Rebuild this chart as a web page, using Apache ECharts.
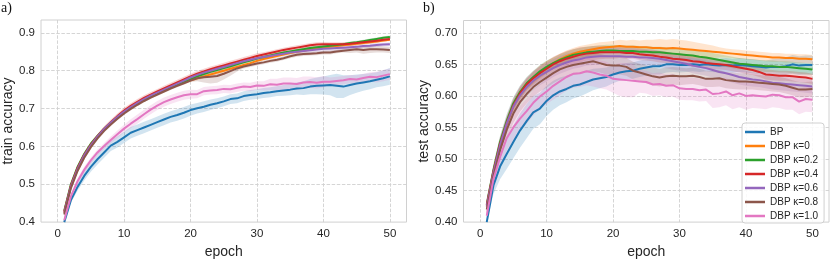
<!DOCTYPE html>
<html>
<head>
<meta charset="utf-8">
<script src="https://cdn.jsdelivr.net/npm/echarts@6/dist/echarts.min.js"></script>
<style>html,body{margin:0;padding:0;background:#fff}#c{width:830px;height:264px}</style>
</head>
<body>
<div id="c"></div>
<script>
const epochs = [1,2,3,4,5,6,7,8,9,10,11,12,13,14,15,16,17,18,19,20,21,22,23,24,25,26,27,28,29,30,31,32,33,34,35,36,37,38,39,40,41,42,43,44,45,46,47,48,49,50];
const seriesNames = ['BP','DBP \u03ba=0','DBP \u03ba=0.2','DBP \u03ba=0.4','DBP \u03ba=0.6','DBP \u03ba=0.8','DBP \u03ba=1.0'];
const seriesColors = ['#1f77b4','#ff7f0e','#2ca02c','#d62728','#9467bd','#8c564b','#e377c2'];
const xTicks = [0,10,20,30,40,50];
const trainTicks = [0.4,0.5,0.6,0.7,0.8,0.9];
const testTicks = [0.40,0.45,0.50,0.55,0.60,0.65,0.70];

// ---- train accuracy (panel a) ----
const trainBP  = [0.400,0.458,0.493,0.522,0.546,0.566,0.584,0.602,0.612,0.624,0.636,0.643,0.650,0.657,0.664,0.671,0.678,0.683,0.689,0.696,0.701,0.705,0.710,0.714,0.719,0.725,0.727,0.733,0.736,0.738,0.741,0.743,0.746,0.748,0.750,0.753,0.754,0.758,0.760,0.761,0.762,0.760,0.758,0.762,0.766,0.769,0.772,0.776,0.780,0.785];
const trainK0  = [0.425,0.495,0.540,0.575,0.603,0.625,0.645,0.661,0.676,0.690,0.701,0.712,0.722,0.731,0.739,0.747,0.755,0.762,0.769,0.775,0.780,0.785,0.790,0.795,0.800,0.805,0.810,0.815,0.820,0.826,0.831,0.835,0.839,0.843,0.847,0.850,0.853,0.856,0.859,0.861,0.863,0.865,0.867,0.869,0.871,0.873,0.875,0.877,0.880,0.882];
const trainK02 = [0.430,0.500,0.546,0.580,0.607,0.628,0.647,0.663,0.678,0.692,0.703,0.714,0.724,0.733,0.741,0.749,0.757,0.764,0.771,0.778,0.785,0.791,0.797,0.802,0.807,0.812,0.817,0.822,0.827,0.832,0.836,0.840,0.844,0.848,0.851,0.854,0.857,0.860,0.862,0.864,0.866,0.868,0.870,0.873,0.875,0.878,0.881,0.884,0.887,0.889];
const trainK04 = [0.428,0.497,0.543,0.578,0.605,0.627,0.647,0.664,0.680,0.695,0.707,0.718,0.728,0.737,0.745,0.753,0.761,0.769,0.777,0.785,0.792,0.798,0.804,0.809,0.814,0.819,0.824,0.829,0.834,0.839,0.843,0.847,0.851,0.855,0.858,0.861,0.864,0.867,0.869,0.870,0.870,0.870,0.870,0.871,0.873,0.875,0.877,0.879,0.882,0.884];
const trainK06 = [0.425,0.494,0.540,0.576,0.603,0.626,0.646,0.663,0.678,0.692,0.704,0.715,0.725,0.734,0.742,0.750,0.758,0.766,0.774,0.782,0.789,0.795,0.800,0.805,0.810,0.815,0.820,0.825,0.829,0.833,0.836,0.839,0.842,0.845,0.848,0.850,0.852,0.854,0.856,0.858,0.859,0.860,0.861,0.862,0.863,0.865,0.866,0.868,0.869,0.870];
const trainK08 = [0.420,0.490,0.535,0.570,0.598,0.621,0.641,0.658,0.673,0.687,0.699,0.710,0.720,0.729,0.737,0.745,0.753,0.760,0.767,0.774,0.780,0.783,0.784,0.786,0.792,0.799,0.806,0.811,0.815,0.819,0.822,0.826,0.829,0.833,0.838,0.842,0.844,0.845,0.846,0.848,0.848,0.851,0.853,0.855,0.857,0.855,0.857,0.857,0.856,0.855];
const trainK10 = [0.405,0.468,0.508,0.538,0.563,0.584,0.601,0.617,0.632,0.647,0.660,0.672,0.685,0.697,0.708,0.717,0.724,0.730,0.735,0.738,0.738,0.746,0.748,0.749,0.752,0.751,0.755,0.758,0.757,0.761,0.760,0.764,0.763,0.766,0.766,0.765,0.769,0.770,0.768,0.771,0.771,0.773,0.775,0.778,0.777,0.781,0.784,0.783,0.787,0.791];
// half-widths of the shaded bands
const trainBPBand  = [0.004,0.007,0.010,0.012,0.013,0.014,0.014,0.014,0.015,0.015,0.015,0.015,0.015,0.015,0.015,0.015,0.015,0.015,0.015,0.015,0.014,0.014,0.014,0.013,0.013,0.013,0.013,0.013,0.013,0.013,0.013,0.013,0.013,0.014,0.015,0.016,0.018,0.020,0.022,0.024,0.027,0.032,0.030,0.026,0.024,0.022,0.021,0.020,0.021,0.022];
const trainK0Band  = [0.008,0.006,0.005,0.005,0.005,0.004,0.004,0.004,0.004,0.004,0.004,0.004,0.004,0.004,0.004,0.004,0.004,0.004,0.004,0.004,0.005,0.005,0.005,0.005,0.005,0.005,0.005,0.005,0.005,0.005,0.004,0.004,0.004,0.004,0.004,0.004,0.004,0.004,0.004,0.004,0.004,0.004,0.004,0.004,0.004,0.004,0.004,0.004,0.004,0.004];
const trainK02Band = [0.008,0.006,0.005,0.005,0.005,0.004,0.004,0.004,0.004,0.004,0.004,0.004,0.004,0.004,0.004,0.004,0.004,0.004,0.004,0.004,0.004,0.004,0.004,0.004,0.004,0.004,0.004,0.004,0.004,0.004,0.004,0.004,0.004,0.004,0.004,0.004,0.004,0.004,0.004,0.004,0.004,0.004,0.004,0.004,0.004,0.004,0.004,0.004,0.004,0.004];
const trainK04Band = [0.008,0.006,0.005,0.005,0.006,0.006,0.006,0.007,0.007,0.007,0.007,0.007,0.007,0.007,0.007,0.007,0.007,0.007,0.007,0.007,0.007,0.007,0.007,0.007,0.007,0.007,0.007,0.007,0.007,0.007,0.006,0.006,0.006,0.006,0.006,0.006,0.006,0.006,0.006,0.006,0.005,0.005,0.005,0.005,0.005,0.005,0.005,0.005,0.005,0.005];
const trainK06Band = [0.008,0.006,0.005,0.005,0.005,0.004,0.004,0.004,0.004,0.004,0.004,0.004,0.004,0.004,0.004,0.004,0.004,0.004,0.004,0.004,0.004,0.004,0.004,0.004,0.004,0.004,0.004,0.004,0.004,0.004,0.004,0.004,0.004,0.004,0.005,0.007,0.008,0.008,0.008,0.008,0.008,0.008,0.008,0.008,0.006,0.005,0.005,0.005,0.005,0.005];
const trainK08Band = [0.008,0.006,0.005,0.005,0.005,0.004,0.004,0.004,0.004,0.004,0.004,0.004,0.004,0.004,0.004,0.004,0.004,0.004,0.004,0.004,0.008,0.014,0.018,0.018,0.015,0.012,0.008,0.005,0.005,0.005,0.005,0.005,0.005,0.005,0.005,0.005,0.005,0.005,0.005,0.005,0.005,0.005,0.005,0.008,0.009,0.010,0.010,0.009,0.008,0.008];
const trainK10Band = [0.006,0.007,0.008,0.008,0.008,0.008,0.008,0.009,0.010,0.010,0.012,0.012,0.012,0.012,0.012,0.012,0.012,0.012,0.012,0.012,0.011,0.011,0.011,0.011,0.011,0.011,0.011,0.011,0.011,0.011,0.012,0.015,0.016,0.016,0.016,0.016,0.016,0.015,0.015,0.015,0.011,0.011,0.011,0.011,0.011,0.011,0.012,0.014,0.015,0.015];

// ---- test accuracy (panel b) ----
const testBP  = [0.400,0.458,0.488,0.508,0.527,0.545,0.560,0.574,0.580,0.592,0.601,0.607,0.611,0.616,0.618,0.622,0.626,0.628,0.630,0.634,0.637,0.639,0.640,0.643,0.645,0.647,0.647,0.650,0.650,0.649,0.649,0.650,0.649,0.650,0.649,0.648,0.649,0.648,0.649,0.648,0.647,0.646,0.645,0.646,0.646,0.647,0.650,0.648,0.649,0.649];
const testK0  = [0.425,0.478,0.522,0.556,0.584,0.603,0.617,0.628,0.637,0.645,0.652,0.658,0.663,0.667,0.670,0.672,0.674,0.676,0.677,0.678,0.679,0.678,0.678,0.677,0.677,0.676,0.676,0.675,0.676,0.675,0.674,0.673,0.672,0.671,0.670,0.669,0.668,0.667,0.666,0.665,0.664,0.663,0.662,0.661,0.661,0.660,0.660,0.659,0.659,0.658];
const testK02 = [0.428,0.482,0.527,0.560,0.588,0.606,0.620,0.630,0.639,0.646,0.652,0.657,0.661,0.665,0.667,0.669,0.670,0.671,0.672,0.672,0.671,0.671,0.671,0.670,0.670,0.669,0.669,0.668,0.667,0.666,0.665,0.664,0.662,0.661,0.659,0.657,0.655,0.653,0.651,0.650,0.649,0.648,0.647,0.647,0.646,0.646,0.645,0.644,0.643,0.642];
const testK04 = [0.427,0.480,0.524,0.557,0.585,0.604,0.618,0.628,0.636,0.643,0.650,0.655,0.659,0.662,0.665,0.667,0.668,0.669,0.669,0.669,0.669,0.668,0.668,0.666,0.665,0.664,0.662,0.661,0.659,0.658,0.657,0.655,0.654,0.652,0.651,0.650,0.649,0.647,0.645,0.643,0.641,0.638,0.634,0.633,0.632,0.632,0.631,0.630,0.629,0.627];
const testK06 = [0.425,0.478,0.522,0.556,0.583,0.601,0.614,0.624,0.632,0.638,0.644,0.649,0.653,0.656,0.658,0.661,0.662,0.663,0.663,0.663,0.663,0.662,0.662,0.661,0.661,0.660,0.659,0.657,0.655,0.653,0.651,0.648,0.646,0.644,0.641,0.638,0.636,0.633,0.630,0.628,0.626,0.625,0.623,0.621,0.620,0.619,0.618,0.617,0.616,0.615];
const testK08 = [0.420,0.473,0.514,0.546,0.572,0.590,0.603,0.614,0.622,0.629,0.636,0.642,0.646,0.649,0.651,0.653,0.655,0.652,0.649,0.648,0.648,0.646,0.640,0.637,0.634,0.631,0.629,0.631,0.632,0.631,0.631,0.632,0.630,0.627,0.627,0.628,0.625,0.624,0.623,0.623,0.622,0.621,0.620,0.619,0.618,0.616,0.613,0.610,0.610,0.611];
const testK10 = [0.410,0.468,0.503,0.533,0.550,0.564,0.576,0.589,0.599,0.607,0.616,0.623,0.630,0.635,0.636,0.639,0.637,0.634,0.632,0.627,0.626,0.625,0.624,0.623,0.622,0.618,0.619,0.616,0.617,0.612,0.611,0.611,0.609,0.610,0.603,0.604,0.607,0.601,0.604,0.600,0.601,0.600,0.599,0.602,0.601,0.598,0.598,0.591,0.595,0.594];
const testBPBand  = [0.005,0.014,0.020,0.024,0.026,0.027,0.027,0.026,0.025,0.024,0.023,0.022,0.021,0.020,0.019,0.018,0.017,0.016,0.015,0.014,0.013,0.013,0.013,0.013,0.013,0.013,0.013,0.013,0.012,0.012,0.011,0.011,0.011,0.011,0.011,0.011,0.011,0.011,0.011,0.011,0.011,0.011,0.011,0.012,0.013,0.014,0.015,0.015,0.015,0.015];
const testK0Band  = [0.010,0.010,0.010,0.010,0.010,0.010,0.010,0.010,0.010,0.010,0.009,0.009,0.009,0.009,0.009,0.009,0.009,0.009,0.009,0.009,0.010,0.010,0.011,0.011,0.012,0.013,0.014,0.014,0.014,0.014,0.014,0.013,0.012,0.011,0.010,0.008,0.007,0.007,0.007,0.007,0.007,0.007,0.007,0.007,0.007,0.007,0.007,0.007,0.007,0.007];
const testK02Band = [0.010,0.010,0.010,0.010,0.010,0.010,0.010,0.010,0.010,0.010,0.009,0.009,0.009,0.009,0.009,0.009,0.009,0.009,0.009,0.009,0.009,0.009,0.009,0.009,0.009,0.009,0.009,0.009,0.009,0.009,0.009,0.009,0.009,0.009,0.009,0.009,0.009,0.009,0.009,0.009,0.009,0.009,0.009,0.009,0.009,0.009,0.009,0.009,0.009,0.009];
const testK04Band = [0.010,0.010,0.010,0.010,0.010,0.010,0.010,0.011,0.012,0.012,0.012,0.012,0.012,0.012,0.012,0.011,0.011,0.011,0.010,0.010,0.009,0.009,0.009,0.009,0.009,0.009,0.009,0.009,0.009,0.009,0.009,0.009,0.009,0.009,0.009,0.008,0.008,0.008,0.008,0.008,0.008,0.008,0.008,0.008,0.008,0.008,0.008,0.008,0.008,0.008];
const testK06Band = [0.012,0.013,0.014,0.015,0.015,0.015,0.015,0.015,0.015,0.015,0.014,0.014,0.014,0.013,0.013,0.013,0.013,0.013,0.013,0.013,0.013,0.013,0.013,0.013,0.013,0.013,0.013,0.013,0.013,0.013,0.012,0.012,0.012,0.012,0.012,0.012,0.012,0.012,0.012,0.012,0.011,0.011,0.011,0.011,0.011,0.011,0.011,0.011,0.011,0.011];
const testK08Band = [0.012,0.013,0.014,0.015,0.015,0.015,0.015,0.015,0.015,0.016,0.016,0.016,0.016,0.016,0.016,0.016,0.016,0.015,0.015,0.015,0.014,0.014,0.014,0.014,0.014,0.014,0.014,0.014,0.014,0.014,0.013,0.013,0.013,0.013,0.013,0.013,0.013,0.013,0.013,0.013,0.012,0.012,0.012,0.012,0.012,0.012,0.012,0.012,0.012,0.012];
const testK10Band = [0.015,0.017,0.019,0.020,0.020,0.020,0.020,0.020,0.020,0.020,0.022,0.022,0.022,0.022,0.022,0.022,0.022,0.022,0.022,0.022,0.026,0.027,0.026,0.018,0.018,0.018,0.018,0.018,0.018,0.018,0.018,0.018,0.018,0.018,0.022,0.022,0.022,0.022,0.022,0.022,0.020,0.020,0.020,0.020,0.020,0.020,0.020,0.020,0.020,0.020];

const trainMeans = [trainBP, trainK0, trainK02, trainK04, trainK06, trainK08, trainK10];
const trainBands = [trainBPBand, trainK0Band, trainK02Band, trainK04Band, trainK06Band, trainK08Band, trainK10Band];
const testMeans  = [testBP, testK0, testK02, testK04, testK06, testK08, testK10];
const testBands  = [testBPBand, testK0Band, testK02Band, testK04Band, testK06Band, testK08Band, testK10Band];

const FONT = "'Liberation Sans', Arial, sans-serif";
const TXT = '#262626';
function rgba(hex, a) {
  const n = parseInt(hex.slice(1), 16);
  return 'rgba(' + ((n >> 16) & 255) + ',' + ((n >> 8) & 255) + ',' + (n & 255) + ',' + a + ')';
}
const series = [];
function addPanel(idx, means, bands) {
  means.forEach((mean, k) => {
    const color = seriesColors[k];
    const name = seriesNames[k];
    const band = bands[k];
    const rows = epochs.map((e, i) => [e, mean[i] - band[i], mean[i] + band[i]]);
    series.push({
      type: 'custom', name: name + ' band' + idx, xAxisIndex: idx, yAxisIndex: idx, silent: true, z: 2,
      data: rows, encode: { x: 0, y: [1, 2] },
      renderItem: function (params, api) {
        if (params.dataIndex !== 0) return null;
        const up = rows.map(r => api.coord([r[0], r[2]]));
        const lo = rows.map(r => api.coord([r[0], r[1]])).reverse();
        const cs = params.coordSys;
        const pts = echarts.graphic.clipPointsByRect(up.concat(lo), { x: cs.x, y: cs.y, width: cs.width, height: cs.height });
        return { type: 'polygon', shape: { points: pts }, style: { fill: rgba(color, 0.2), stroke: null } };
      }
    });
    series.push({
      type: 'line', name: name, xAxisIndex: idx, yAxisIndex: idx,
      data: epochs.map((e, i) => [e, mean[i]]),
      symbol: 'none', lineStyle: { color: color, width: 2 }, itemStyle: { color: color }, z: 2
    });
  });
}
addPanel(0, trainMeans, trainBands);
addPanel(1, testMeans, testBands);

function xAxisFor(gi) {
  return {
    type: 'value', gridIndex: gi, min: -2.5, max: 52.5, splitNumber: 5,
    name: 'epoch', nameLocation: 'middle', nameGap: 17,
    nameTextStyle: { fontFamily: FONT, fontSize: 14, color: TXT },
    axisLine: { show: false }, axisTick: { show: false },
    axisLabel: { fontFamily: FONT, fontSize: 11.5, color: TXT, margin: 6, showMinLabel: false, showMaxLabel: false,
      formatter: v => (xTicks.indexOf(Math.round(v * 1000) / 1000) >= 0 ? String(v) : '') },
    splitLine: { show: true, showMinLine: false, showMaxLine: false, lineStyle: { color: '#d0d0d0', type: [3.5, 1.6], width: 0.9 } }
  };
}
function yAxisFor(gi, min, max, interval, ticks, dec, nm, gap) {
  return {
    type: 'value', gridIndex: gi, min: min, max: max, interval: interval,
    name: nm, nameLocation: 'middle', nameGap: gap,
    nameTextStyle: { fontFamily: FONT, fontSize: 14, color: TXT },
    axisLine: { show: false }, axisTick: { show: false },
    axisLabel: { fontFamily: FONT, fontSize: 11.5, color: TXT, margin: 6, showMaxLabel: false,
      formatter: v => { const r = Math.round(v * 1000) / 1000; return ticks.some(t => Math.abs(t - r) < 1e-6) ? r.toFixed(dec) : ''; } },
    splitLine: { show: true, showMinLine: false, showMaxLine: false, lineStyle: { color: '#d0d0d0', type: [3.5, 1.6], width: 0.9 } }
  };
}

const chart = echarts.init(document.getElementById('c'), null, { renderer: 'canvas' });
chart.setOption({
  backgroundColor: '#ffffff',
  animation: false,
  grid: [
    { left: 41, right: 423.5, top: 20, bottom: 34.7, show: true, borderColor: '#d0d0d0', borderWidth: 1, backgroundColor: 'transparent' },
    { left: 463.5, right: 1, top: 20.5, bottom: 34.7, show: true, borderColor: '#d0d0d0', borderWidth: 1, backgroundColor: 'transparent' }
  ],
  xAxis: [xAxisFor(0), xAxisFor(1)],
  yAxis: [
    yAxisFor(0, 0.4, 0.934, 0.1, trainTicks, 1, 'train accuracy', 24),
    yAxisFor(1, 0.4, 0.7195, 0.05, testTicks, 2, 'test accuracy', 32)
  ],
  legend: {
    data: seriesNames, orient: 'vertical', left: 742, top: 123,
    icon: 'rect', itemWidth: 20, itemHeight: 2.5, itemGap: 0,
    padding: [2, 6, 0, 3],
    backgroundColor: 'rgba(255,255,255,0.85)', borderColor: '#d0d0d0', borderWidth: 1, borderRadius: 3,
    textStyle: { fontFamily: FONT, fontSize: 10, color: TXT, lineHeight: 14 },
    selectedMode: false
  },
  graphic: [
    { type: 'text', left: 1, top: 1, style: { text: 'a)', font: "14px 'Liberation Serif', 'DejaVu Serif', serif", fill: '#111' } },
    { type: 'text', left: 423, top: 1, style: { text: 'b)', font: "14px 'Liberation Serif', 'DejaVu Serif', serif", fill: '#111' } }
  ],
  series: series
});
</script>
</body>
</html>
